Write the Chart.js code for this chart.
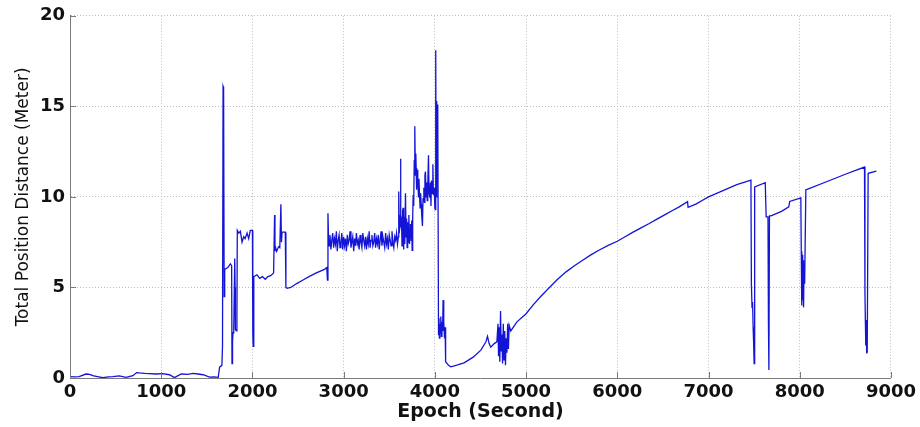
<!DOCTYPE html>
<html>
<head>
<meta charset="utf-8">
<script src="https://cdn.jsdelivr.net/npm/chart.js@4/dist/chart.umd.min.js"></script>
<style>
  html, body { margin: 0; padding: 0; background: #ffffff; }
  canvas { display: block; }
</style>
</head>
<body>
<canvas id="c" width="920" height="427"></canvas>
<script>
// ---- Data: [epoch (s), total position distance (m)] ----
const quietPhase = [
  [0,0.08],[50,0.06],[100,0.08],[175,0.22],[215,0.20],[250,0.13],[300,0.08],[360,0.02],[420,0.06],[470,0.08],
  [540,0.12],[615,0.04],[690,0.13],[730,0.30],[760,0.28],[820,0.25],[870,0.24],[940,0.22],[1015,0.24],[1090,0.18],
  [1145,0.02],[1180,0.12],[1220,0.22],[1290,0.20],[1350,0.25],[1400,0.22],[1460,0.18],[1530,0.05],[1580,0.06],[1625,0.04]
];
const firstJumps = [
  [1640,0.6],[1665,0.7],[1672,1.75],[1678,16.1],[1684,16.0],[1690,4.5],[1696,6.0],[1730,6.1],[1758,6.3],[1772,6.2],
  [1776,0.8],[1782,2.0],[1787,2.5],[1795,2.6],[1806,6.6],[1810,5.0],[1813,2.7],[1822,2.6],[1830,3.4],[1834,8.15],
  [1850,8.0],[1868,8.1],[1886,7.5],[1905,7.8],[1920,7.7],[1941,8.0],[1959,7.7],[1977,8.15],[2000,8.15],[2004,2.5],
  [2008,1.75],[2015,5.6],[2050,5.7],[2080,5.5],[2110,5.6],[2140,5.45],[2170,5.6],[2200,5.65],[2232,5.8],[2243,9.0],
  [2247,7.0],[2254,7.2],[2265,7.0],[2287,7.25],[2300,7.2],[2312,9.6],[2318,7.5],[2325,8.05],[2360,8.05],[2367,5.0],
  [2380,4.95],[2420,5.0],[2480,5.2],[2550,5.4],[2620,5.6],[2700,5.8],[2790,6.0],[2815,6.1],[2822,5.4],[2828,9.1]
];
const noisyPlateau = [
  [2834,7.8],[2840,7.3],[2850,7.9],[2860,7.1],[2870,7.6],[2880,8.0],[2890,7.2],[2900,7.7],[2910,7.4],[2920,8.1],
  [2930,7.0],[2940,7.6],[2950,7.9],[2960,7.2],[2970,7.5],[2980,8.0],[2990,7.1],[3000,7.8],[3010,7.3],[3020,7.7],
  [3030,7.0],[3040,7.9],[3050,7.4],[3060,7.6],[3070,8.1],[3080,7.2],[3090,7.5],[3100,7.8],[3110,7.0],[3120,7.7],
  [3130,7.3],[3140,8.0],[3150,7.4],[3160,7.6],[3170,7.1],[3180,7.9],[3190,7.5],[3200,7.2],[3210,8.0],[3220,7.6],
  [3230,7.3],[3240,7.8],[3250,7.1],[3260,7.7],[3270,7.4],[3280,8.1],[3290,7.2],[3300,7.6],[3310,7.9],[3320,7.3],
  [3330,7.5],[3340,8.0],[3350,7.2],[3360,7.7],[3370,7.4],[3380,7.9],[3390,7.1],[3400,7.6],[3410,8.1],[3420,7.3],
  [3430,7.8],[3440,7.5],[3450,7.2],[3460,8.0],[3470,7.4],[3480,7.7],[3490,7.1],[3500,7.9],[3510,7.6],[3520,7.3],
  [3530,8.1],[3540,7.5],[3550,7.2],[3560,7.8],[3570,7.6],[3580,8.0],[3590,7.4]
];
const highNoise = [
  [3600,7.8],[3604,10.3],[3610,8.0],[3618,9.0],[3623,12.1],[3628,8.5],[3634,8.7],[3640,7.3],[3646,9.2],[3652,9.4],
  [3658,7.1],[3664,8.9],[3670,7.4],[3678,10.2],[3684,7.8],[3690,8.8],[3696,7.2],[3702,8.6],[3708,7.5],[3715,9.0],
  [3722,7.4],[3728,8.2],[3733,8.5],[3740,7.6],[3746,8.7],[3751,7.05],[3757,8.9],[3762,10.1],[3768,9.5],[3774,12.0],
  [3780,13.9],[3786,11.2],[3791,12.4],[3795,11.6],[3800,10.4],[3806,11.5],[3813,10.9],[3820,10.0],[3826,11.0],[3832,10.1],
  [3838,9.4],[3844,10.2],[3850,9.6],[3857,8.9],[3864,8.4],[3870,9.9],[3879,10.5],[3885,9.7],[3891,11.2],[3897,11.4],
  [3903,10.0],[3909,10.8],[3916,9.8],[3922,10.6],[3930,12.3],[3936,10.2],[3945,9.96],[3951,10.8],[3957,9.5],[3963,10.9],
  [3970,10.2],[3978,11.8],[3984,10.1],[3993,10.5],[4000,9.4],[4004,9.3],[4008,14.0],[4011,18.1],[4014,10.0],[4018,15.3],
  [4022,14.8],[4026,15.1],[4030,13.0],[4034,14.7],[4040,2.4]
];
const lowDip = [
  [4045,3.3],[4050,2.2],[4055,3.0],[4060,2.5],[4065,3.4],[4072,2.3],[4078,3.1],[4085,2.6],[4090,4.3],[4095,2.6],
  [4100,3.1],[4106,2.2],[4112,2.8],[4118,0.9],[4150,0.7],[4175,0.62],[4250,0.72],[4320,0.84],[4420,1.15],[4504,1.54],
  [4560,2.0],[4577,2.3],[4595,1.9],[4613,1.7],[4650,1.9],[4680,2.0],[4692,3.0],[4698,1.2],[4705,2.8],[4712,0.9],
  [4720,3.7],[4727,1.5],[4735,2.4],[4742,0.8],[4750,3.0],[4758,1.0],[4766,2.6],[4774,0.7],[4782,2.2],[4790,1.4],
  [4798,3.0],[4806,1.6],[4815,2.9],[4832,2.6],[4900,3.1]
];
const driftPhase = [
  [5000,3.55],[5080,4.05],[5160,4.5],[5248,4.96],[5340,5.42],[5438,5.86],[5530,6.2],[5620,6.5],[5710,6.8],[5803,7.07],
  [5900,7.32],[6000,7.55],[6085,7.8],[6168,8.04],[6260,8.29],[6350,8.53],[6440,8.79],[6533,9.05],[6610,9.26],[6679,9.45],
  [6770,9.74],[6776,9.42],[6861,9.6],[6930,9.8],[7000,10.0],[7095,10.21],[7190,10.42],[7310,10.68],[7465,10.92],[7470,5.2],
  [7477,3.9],[7483,4.2],[7489,2.8],[7494,2.0],[7500,0.8],[7506,10.55],[7622,10.79],[7632,8.9],[7652,8.9],[7657,3.0],
  [7662,0.44],[7668,8.95],[7685,8.95],[7800,9.2],[7880,9.45],[7890,9.75],[8012,9.95],[8017,7.0],[8022,4.0],[8027,6.8],
  [8032,4.3],[8037,6.5],[8042,3.9],[8047,6.0],[8054,5.2],[8067,10.4],[8080,10.42],[8300,10.85],[8500,11.25],[8710,11.65],
  [8715,4.65],[8720,3.0],[8724,1.8],[8728,3.2],[8732,1.35],[8736,2.5],[8740,1.4],[8750,11.3],[8840,11.43]
];
const xTickValues = [0,1000,2000,3000,4000,5000,6000,7000,8000,9000];
const yTickValues = [0,5,10,15,20];
const xTitle = 'Epoch (Second)';
const yTitle = 'Total Position Distance (Meter)';

// ---- Build chart ----
const series = [].concat(quietPhase, firstJumps, noisyPlateau, highNoise, lowDip, driftPhase)
  .map(([x, y]) => ({ x, y }));

const innerTicks = {
  id: 'innerTicks',
  afterDatasetsDraw(chart) {
    const { ctx, chartArea: a, scales: { x, y } } = chart;
    ctx.save();
    ctx.strokeStyle = '#7a7a7a';
    ctx.lineWidth = 1;
    ctx.beginPath();
    xTickValues.forEach(v => {
      const px = Math.round(x.getPixelForValue(v)) + 0.5;
      ctx.moveTo(px, a.bottom); ctx.lineTo(px, a.bottom - 6);
    });
    yTickValues.forEach(v => {
      const py = Math.round(y.getPixelForValue(v)) + 0.5;
      ctx.moveTo(a.left, py); ctx.lineTo(a.left + 6, py);
    });
    ctx.stroke();
    ctx.restore();
  }
};

const whiteBg = {
  id: 'whiteBg',
  beforeDraw(chart) {
    const { ctx } = chart;
    ctx.save(); ctx.fillStyle = '#fff'; ctx.fillRect(0, 0, chart.width, chart.height); ctx.restore();
  }
};

Chart.defaults.font.family = "'DejaVu Sans', sans-serif";
Chart.defaults.color = '#111';

new Chart(document.getElementById('c'), {
  type: 'line',
  data: {
    datasets: [{
      data: series,
      borderColor: 'rgb(20,20,215)',
      borderWidth: 1.3,
      pointRadius: 0,
      tension: 0,
      fill: false
    }]
  },
  options: {
    responsive: false,
    animation: false,
    layout: { padding: { top: 12, right: 29, left: 0, bottom: 0 } },
    plugins: { legend: { display: false }, tooltip: { enabled: false } },
    scales: {
      x: {
        type: 'linear',
        min: 0, max: 9000,
        afterBuildTicks(scale) { scale.ticks = xTickValues.map(v => ({ value: v })); },
        afterFit(scale) { scale.height = 49; },
        grid: { color: '#bdbdbd', lineWidth: 1, drawTicks: false },
        border: { display: true, color: '#7a7a7a', width: 1, dash: [1, 2] },
        ticks: { padding: 4, maxRotation: 0, autoSkip: false, callback: v => String(v), font: { size: 18, weight: 'bold' }, color: '#111' },
        title: { display: true, text: xTitle, padding: { top: 0, bottom: 4 }, font: { size: 19, weight: 'bold' }, color: '#111' }
      },
      y: {
        type: 'linear',
        min: 0, max: 20,
        afterBuildTicks(scale) { scale.ticks = yTickValues.map(v => ({ value: v })); },
        afterFit(scale) { scale.width = 70; },
        grid: { color: '#bdbdbd', lineWidth: 1, drawTicks: false },
        border: { display: true, color: '#7a7a7a', width: 1, dash: [1, 2] },
        ticks: { padding: 5, callback: v => String(v), font: { size: 18, weight: 'bold' }, color: '#111' },
        title: { display: true, text: yTitle, padding: { top: 13, bottom: 0 }, font: { size: 17, weight: 'normal' }, color: '#111' }
      }
    }
  },
  plugins: [whiteBg, innerTicks]
});
</script>
</body>
</html>
